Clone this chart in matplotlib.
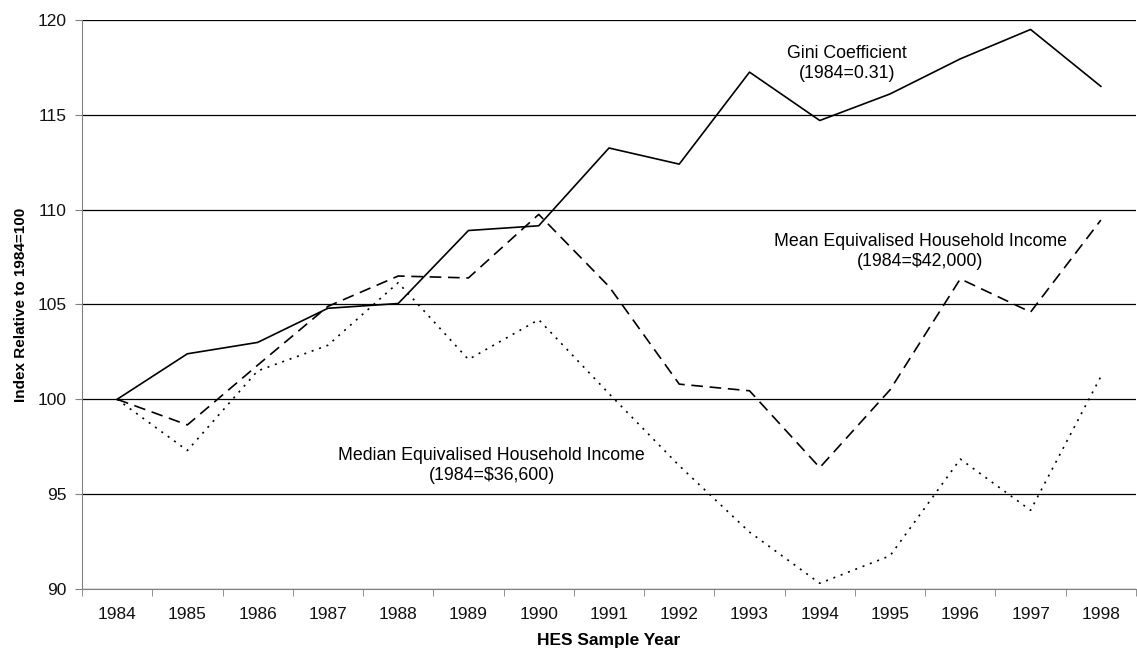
import numpy as np
import matplotlib
matplotlib.use('Agg')
import matplotlib.pyplot as plt
from matplotlib.ticker import FixedLocator

plt.rcParams['font.family'] = ['Liberation Sans', 'DejaVu Sans']

years = ['1984', '1985', '1986', '1987', '1988', '1989', '1990', '1991',
         '1992', '1993', '1994', '1995', '1996', '1997', '1998']
gini = [100, 102.4, 103.0, 104.8, 105.05, 108.9, 109.15, 113.25, 112.4,
        117.25, 114.7, 116.1, 117.95, 119.5, 116.5]
mean_inc = [100, 98.65, 101.8, 104.9, 106.5, 106.4, 109.75, 105.95, 100.8,
            100.45, 96.4, 100.5, 106.35, 104.6, 109.45]
median_inc = [100, 97.3, 101.5, 102.85, 106.15, 102.1, 104.2, 100.3, 96.5,
              93.0, 90.3, 91.75, 96.85, 94.15, 101.2]

fig = plt.figure(figsize=(11.37, 6.55), dpi=100)
ax = fig.add_axes([0.0721, 0.1008, 0.9270, 0.8687])

x = np.arange(len(years))
ax.plot(x, gini, color='black', lw=1.2, linestyle='-')
ax.plot(x, mean_inc, color='black', lw=1.2, linestyle=(0, (7, 4)))
ax.plot(x, median_inc, color='black', lw=1.2, linestyle=(0, (1.2, 3.5)))

ax.set_xlim(-0.5, len(years) - 0.5)
ax.set_ylim(90, 120)
ax.set_yticks(range(90, 121, 5))
ax.set_xticks(x)
ax.set_xticklabels(years)
ax.xaxis.set_minor_locator(FixedLocator(np.arange(-0.5, len(years), 1)))
ax.tick_params(axis='x', which='major', length=0, pad=13, labelsize=12.5, labelcolor='#111111')
ax.tick_params(axis='x', which='minor', length=5, color='#808080')
ax.tick_params(axis='y', length=5, color='#808080', labelsize=12.5, pad=6, labelcolor='#111111')

ax.grid(axis='y', color='black', lw=0.9)
ax.set_axisbelow(True)
for s in ['top', 'right']:
    ax.spines[s].set_visible(False)
ax.spines['left'].set_color('#808080')
ax.spines['bottom'].set_color('#808080')

ax.set_ylabel('Index Relative to 1984=100', fontsize=11, fontweight='bold', labelpad=7)
ax.set_xlabel('HES Sample Year', fontsize=12.5, fontweight='bold', labelpad=8)

ax.text(10.39, 117.7, 'Gini Coefficient\n(1984=0.31)', ha='center', va='center',
        fontsize=12.8, linespacing=1.2)
ax.text(11.43, 107.8, 'Mean Equivalised Household Income\n(1984=$42,000)', ha='center',
        va='center', fontsize=12.8, linespacing=1.2)
ax.text(5.33, 96.5, 'Median Equivalised Household Income\n(1984=$36,600)', ha='center',
        va='center', fontsize=12.8, linespacing=1.2)

fig.savefig('out.png', dpi=100)
